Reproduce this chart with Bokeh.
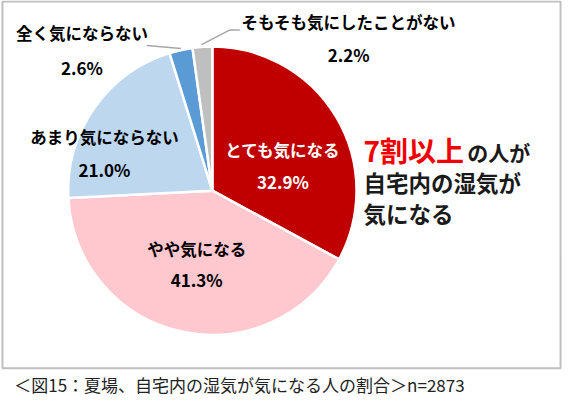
import math
from bokeh.plotting import figure
from bokeh.models import Range1d
from bokeh.core.properties import value
from bokeh.embed import file_html
from bokeh.resources import INLINE

# ---- data ----
categories = ["とても気になる", "やや気になる", "あまり気にならない", "全く気にならない", "そもそも気にしたことがない"]
shares = [32.9, 41.3, 21.0, 2.6, 2.2]
colors = ["#c00000", "#ffc7ce", "#bdd7ee", "#5b9bd5", "#bfbfbf"]
label_colors = ["white", "black", "black", "black", "black"]
caption = "＜図15：夏場、自宅内の湿気が気になる人の割合＞n=2873"
headline_red = "7割以上"
headline_rest = ["の人が", "自宅内の湿気が", "気になる"]

# ---- layout (reference pixel coordinates, y grows downward) ----
CX, CY, R = 219, 194, 147
label_pos = [(291, 152, 185), (203, 253, 285), (109, 139, 172), (86, 33, 68), (358, 22, 55)]
FONT = "Noto Sans CJK JP"

p = figure(width=562, height=402, output_backend="svg", toolbar_location=None,
           x_range=Range1d(3, 576), y_range=Range1d(410, 0), min_border=0)
p.axis.visible = False
p.grid.visible = False
p.outline_line_color = None
p.background_fill_color = "white"

# frame
p.quad(left=[5], right=[574], top=[1], bottom=[375], fill_color=None,
       line_color="#bfbfbf", line_width=2)

# pie (clockwise from 12 o'clock)
total = sum(shares)
cum = 0.0
starts, ends = [], []
for s in shares:
    a0 = cum / total * 2 * math.pi
    cum += s
    a1 = cum / total * 2 * math.pi
    starts.append(math.pi / 2 - a0)
    ends.append(math.pi / 2 - a1)
p.wedge(x=CX, y=CY, radius=R, start_angle=starts, end_angle=ends, direction="clock",
        fill_color=colors, line_color="white", line_width=2.5)

# leader lines
p.line(x=[152, 187], y=[46, 49], line_color="#a6a6a6", line_width=1.5)
p.line(x=[208, 237, 247], y=[45, 30, 30], line_color="#a6a6a6", line_width=1.5)

# slice labels
for cat, sh, col, (lx, ly1, ly2) in zip(categories, shares, label_colors, label_pos):
    p.text(x=[lx], y=[ly1], text=[cat], text_align="center", text_baseline="middle",
           text_font=value(FONT), text_font_style="bold", text_font_size="16.5px", text_color=col)
    p.text(x=[lx], y=[ly2], text=[f"{sh:.1f}%"], text_align="center", text_baseline="middle",
           text_font=value(FONT), text_font_style="bold", text_font_size="17px", text_color=col)

# headline
p.text(x=[373], y=[152], text=[headline_red], text_align="left", text_baseline="middle",
       text_font=value(FONT), text_font_style="bold", text_font_size="28px", text_color="#f00000")
p.text(x=[479], y=[155], text=[headline_rest[0]], text_align="left", text_baseline="middle",
       text_font=value(FONT), text_font_style="bold", text_font_size="21px", text_color="#1a1a1a")
p.text(x=[373, 373], y=[185, 217], text=headline_rest[1:], text_align="left", text_baseline="middle",
       text_font=value(FONT), text_font_style="bold", text_font_size="22.5px", text_color="#1a1a1a")

# caption
p.text(x=[17], y=[392], text=[caption], text_align="left", text_baseline="middle",
       text_font=value(FONT), text_font_size="17px", text_color="#222222")

open("out.html", "w").write(file_html(p, INLINE))
